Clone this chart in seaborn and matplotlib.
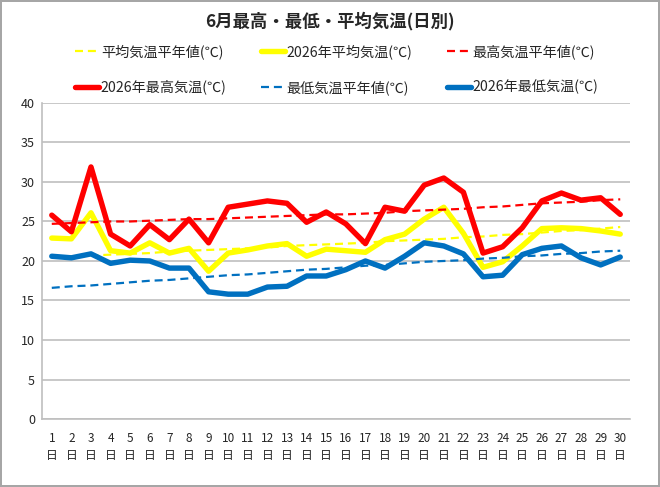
import matplotlib
matplotlib.use("Agg")
import matplotlib.pyplot as plt
import numpy as np
import pandas as pd
import seaborn as sns

# ---- data ----
days = list(range(1, 31))

avg_normal = [20.5, 20.6, 20.7, 20.8, 20.9, 21.0, 21.2, 21.3, 21.4, 21.5,
              21.6, 21.7, 21.9, 22.0, 22.1, 22.2, 22.3, 22.5, 22.6, 22.7,
              22.8, 23.0, 23.1, 23.3, 23.4, 23.6, 23.8, 23.9, 24.1, 24.3]
avg_2026 = [22.9, 22.8, 26.1, 21.3, 21.0, 22.3, 21.0, 21.6, 18.7, 21.0,
            21.4, 21.9, 22.2, 20.6, 21.5, 21.3, 21.1, 22.7, 23.4, 25.3,
            26.8, 23.5, 19.2, 19.9, 21.9, 24.1, 24.2, 24.1, 23.8, 23.4]
max_normal = [24.7, 24.8, 24.9, 25.0, 25.0, 25.1, 25.2, 25.3, 25.3, 25.4,
              25.5, 25.6, 25.7, 25.8, 25.9, 25.9, 26.0, 26.1, 26.3, 26.4,
              26.5, 26.6, 26.8, 26.9, 27.1, 27.3, 27.4, 27.5, 27.7, 27.8]
max_2026 = [25.8, 23.7, 31.9, 23.4, 21.9, 24.6, 22.7, 25.3, 22.3, 26.8,
            27.2, 27.6, 27.3, 24.9, 26.2, 24.7, 22.2, 26.8, 26.3, 29.6,
            30.5, 28.7, 21.0, 21.8, 24.2, 27.6, 28.6, 27.7, 28.0, 25.9]
min_normal = [16.6, 16.8, 16.9, 17.1, 17.3, 17.5, 17.6, 17.8, 18.0, 18.2,
              18.3, 18.5, 18.7, 18.9, 19.0, 19.2, 19.4, 19.5, 19.7, 19.9,
              20.0, 20.1, 20.3, 20.4, 20.6, 20.7, 20.9, 21.0, 21.2, 21.3]
min_2026 = [20.6, 20.4, 20.9, 19.7, 20.1, 20.0, 19.1, 19.1, 16.1, 15.8,
            15.8, 16.7, 16.8, 18.1, 18.1, 18.9, 20.0, 19.1, 20.6, 22.3,
            21.9, 20.9, 18.0, 18.2, 20.8, 21.6, 21.9, 20.4, 19.5, 20.5]

series_names = ["平均気温平年値(℃)", "2026年平均気温(℃)", "最高気温平年値(℃)",
                "2026年最高気温(℃)", "最低気温平年値(℃)", "2026年最低気温(℃)"]
series_values = [avg_normal, avg_2026, max_normal, max_2026, min_normal, min_2026]
series_colors = ["#FFFF00", "#FFFF00", "#FF0000", "#FF0000", "#0070C0", "#0070C0"]
series_dashed = [True, False, True, False, True, False]

title = "6月最高・最低・平均気温(日別)"
xtick_labels = [f"{d}\n日" for d in days]
yticks = [0, 5, 10, 15, 20, 25, 30, 35, 40]

# ---- style ----
sns.set_style("white")
plt.rcParams["font.family"] = ["Noto Sans CJK JP", "DejaVu Sans"]

fig = plt.figure(figsize=(6.6, 4.87), dpi=100)
fig.patch.set_edgecolor("#A6A6A6")
fig.patch.set_linewidth(1.5)
ax = fig.add_axes([0.0636, 0.1396, 0.891, 0.649])

for name, vals, col, dashed in zip(series_names, series_values, series_colors, series_dashed):
    df = pd.DataFrame({"day": days, "temp": vals})
    if dashed:
        sns.lineplot(data=df, x="day", y="temp", ax=ax, color=col, lw=1.6,
                     label=name)
        ax.lines[-1].set_dashes([3.6, 2.2])
    else:
        sns.lineplot(data=df, x="day", y="temp", ax=ax, color=col, lw=3.9,
                     label=name)

ax.set_xlim(0.5, 30.5)
ax.set_ylim(0, 40)
ax.set_yticks(yticks)
ax.set_xticks(days)
ax.set_xticklabels(xtick_labels, fontsize=8.5, linespacing=1.45)
ax.tick_params(axis="y", labelsize=9, length=0, pad=5)
ax.tick_params(axis="x", length=0, pad=9)
ax.set_xlabel("")
ax.set_ylabel("")
ax.yaxis.grid(True, color="#BFBFBF", lw=1.2)
for s in ["top", "right"]:
    ax.spines[s].set_visible(False)
for s in ["left", "bottom"]:
    ax.spines[s].set_color("#BFBFBF")
    ax.spines[s].set_linewidth(1.2)

# legend: 2 rows x 3 columns, row-major order
handles, labels = ax.get_legend_handles_labels()
ax.get_legend().remove()
order = [0, 3, 1, 4, 2, 5]
fig.legend([handles[i] for i in order], [labels[i] for i in order],
           ncol=3, loc="upper center", bbox_to_anchor=(0.51, 0.935),
           frameon=False, fontsize=10.2, handlelength=1.7, handletextpad=0.15,
           columnspacing=2.4, labelspacing=1.45)

fig.suptitle(title, x=0.5, y=0.975, fontsize=12.5, fontweight="bold")

fig.savefig("out.png", dpi=100)
